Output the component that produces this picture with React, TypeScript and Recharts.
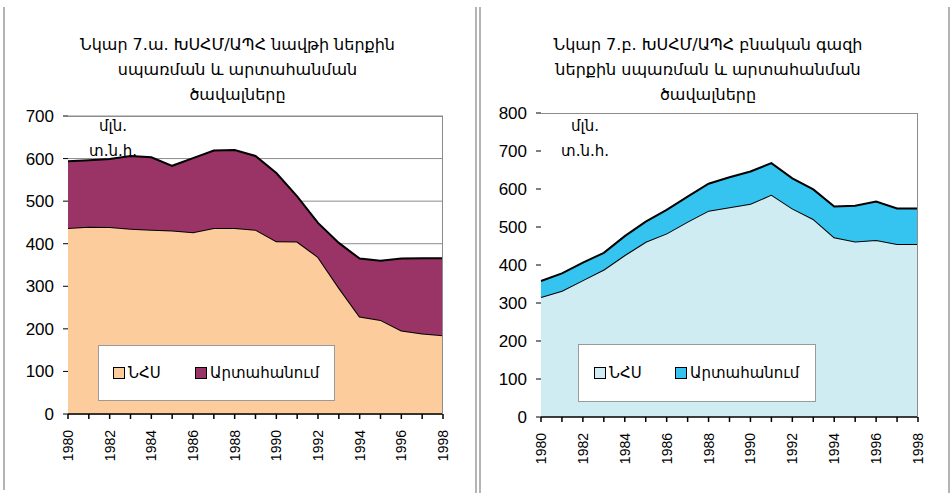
import { AreaChart, Area, XAxis, YAxis, CartesianGrid } from 'recharts';

const YEARS = [
  1980, 1981, 1982, 1983, 1984, 1985, 1986, 1987, 1988, 1989,
  1990, 1991, 1992, 1993, 1994, 1995, 1996, 1997, 1998,
];

// oil: domestic consumption and exports, mln t.o.e.
const OIL_DOMESTIC = [437, 440, 439, 435, 433, 431, 427, 437, 437, 433, 406, 405, 369, 297, 229, 221, 196, 189, 185];
const OIL_EXPORT = [157, 156, 160, 171, 170, 152, 174, 182, 183, 173, 160, 106, 80, 105, 136, 139, 169, 177, 181];

// natural gas: domestic consumption and exports, mln t.o.e.
const GAS_DOMESTIC = [316, 332, 360, 388, 426, 461, 483, 514, 543, 552, 561, 585, 549, 521, 473, 462, 466, 455, 455];
const GAS_EXPORT = [42, 46, 46, 44, 50, 53, 62, 66, 71, 79, 85, 83, 79, 78, 81, 94, 101, 94, 94];

const OIL_TICKS = [0, 100, 200, 300, 400, 500, 600, 700];
const GAS_TICKS = [0, 100, 200, 300, 400, 500, 600, 700, 800];

const SERIES_NAMES = ['ՆՀՍ', 'Արտահանում'];
const UNIT_LINES = ['մլն.', 'տ.ն.հ.'];

const OIL_TITLE = ['Նկար 7.ա. ԽՍՀՄ/ԱՊՀ նավթի ներքին', 'սպառման և արտահանման', 'ծավալները'];
const GAS_TITLE = ['Նկար 7.բ. ԽՍՀՄ/ԱՊՀ բնական գազի', 'ներքին սպառման և արտահանման', 'ծավալները'];

const NUM_FONT = '"Liberation Sans", Arial, "DejaVu Sans", sans-serif';
const ARM_FONT = '"DejaVu Sans", sans-serif';

function buildRows(a: number[], b: number[]) {
  return YEARS.map((year, i) => ({ year, domestic: a[i], export: b[i] }));
}

function YearTick(props: any) {
  const { x, y, payload } = props;
  const year = payload.value as number;
  if (year % 2 !== 0) return <g />;
  return (
    <g transform={`translate(${x},${y})`}>
      <text
        transform="rotate(-90)"
        x={-11}
        dy="0.36em"
        textAnchor="end"
        fontSize={14}
        fontFamily={NUM_FONT}
        fill="#000"
      >
        {year}
      </text>
    </g>
  );
}

function LegendBox({ colors, box }: { colors: string[]; box: any }) {
  return (
    <div
      style={{
        position: 'absolute',
        left: box.x,
        top: box.y,
        width: box.w,
        height: box.h,
        background: '#fff',
        border: '1px solid #9a9a9a',
        boxSizing: 'border-box',
        fontFamily: ARM_FONT,
        fontSize: 15,
        color: '#000',
      }}
    >
      {SERIES_NAMES.map((name, i) => (
        <div
          key={name}
          style={{
            position: 'absolute',
            left: box.items[i],
            top: 0,
            height: box.h - 2,
            display: 'flex',
            alignItems: 'center',
            whiteSpace: 'nowrap',
          }}
        >
          <span
            style={{
              display: 'inline-block',
              width: 10,
              height: 10,
              background: colors[i],
              border: '1.5px solid #000',
              marginRight: 3,
            }}
          />
          {name}
        </div>
      ))}
    </div>
  );
}

interface PanelProps {
  left: number;
  width: number;
  titleWidth: number;
  title: string[];
  rows: { year: number; domestic: number; export: number }[];
  ticks: number[];
  colors: string[];
  margin: { top: number; right: number; bottom: number; left: number };
  grid: boolean;
  legend: any;
  unitX: number;
}

function Panel({ left, width, titleWidth, title, rows, ticks, colors, margin, grid, legend, unitX }: PanelProps) {
  return (
    <div style={{ position: 'absolute', left, top: 0, width, height: 493 }}>
      <div
        style={{
          position: 'absolute',
          left: 0,
          top: 32,
          width: titleWidth,
          textAlign: 'center',
          fontFamily: ARM_FONT,
          fontSize: 16,
          lineHeight: '25px',
          color: '#000',
        }}
      >
        {title.map((t) => (
          <div key={t}>{t}</div>
        ))}
      </div>
      <AreaChart width={width} height={493} data={rows} margin={margin}>
        {grid && <CartesianGrid vertical={false} horizontal stroke="#8c8c8c" strokeWidth={1} fill="none" />}
        <XAxis
          dataKey="year"
          type="number"
          domain={[1980, 1998]}
          ticks={YEARS}
          interval={0}
          tick={<YearTick />}
          tickSize={5}
          tickMargin={0}
          height={60}
          stroke="#000"
          strokeWidth={1.5}
        />
        <YAxis
          type="number"
          domain={[ticks[0], ticks[ticks.length - 1]]}
          ticks={ticks}
          interval={0}
          width={60}
          tickSize={5}
          tickMargin={9}
          stroke="#000"
          axisLine={false}
          tick={{ fontSize: 17, fill: '#000', fontFamily: NUM_FONT }}
        />
        <Area
          dataKey="domestic"
          name={SERIES_NAMES[0]}
          stackId="s"
          type="linear"
          fill={colors[0]}
          fillOpacity={1}
          stroke="#000"
          strokeWidth={2}
          isAnimationActive={false}
        />
        <Area
          dataKey="export"
          name={SERIES_NAMES[1]}
          stackId="s"
          type="linear"
          fill={colors[1]}
          fillOpacity={1}
          stroke="#000"
          strokeWidth={2}
          isAnimationActive={false}
        />
      </AreaChart>
      {/* plot frame */}
      <div
        style={{
          position: 'absolute',
          left: margin.left + 60,
          top: margin.top,
          width: width - margin.left - 60 - margin.right,
          height: 493 - margin.top - margin.bottom - 60,
          borderTop: '1px solid #8c8c8c',
          borderRight: '1px solid #8c8c8c',
          boxSizing: 'border-box',
          pointerEvents: 'none',
        }}
      />
      <LegendBox colors={colors} box={legend} />
      <div
        style={{
          position: 'absolute',
          left: unitX - 40,
          top: 114,
          width: 80,
          textAlign: 'center',
          fontFamily: ARM_FONT,
          fontSize: 15,
          lineHeight: '25px',
          color: '#000',
        }}
      >
        {UNIT_LINES.map((t) => (
          <div key={t}>{t}</div>
        ))}
      </div>
    </div>
  );
}

export default function App() {
  const oilRows = buildRows(OIL_DOMESTIC, OIL_EXPORT);
  const gasRows = buildRows(GAS_DOMESTIC, GAS_EXPORT);
  return (
    <div style={{ position: 'absolute', left: 0, top: 0, width: 951, height: 493, background: '#fff', overflow: 'hidden' }}>
      <Panel
        left={0}
        width={475}
        titleWidth={475}
        title={OIL_TITLE}
        rows={oilRows}
        ticks={OIL_TICKS}
        colors={['#FCCC9C', '#9A3366']}
        margin={{ top: 116, right: 32, bottom: 19, left: 8 }}
        grid
        legend={{ x: 98, y: 345, w: 237, h: 56, items: [14, 96] }}
        unitX={113}
      />
      <Panel
        left={475}
        width={476}
        titleWidth={466}
        title={GAS_TITLE}
        rows={gasRows}
        ticks={GAS_TICKS}
        colors={['#D0ECF3', '#35C4EF']}
        margin={{ top: 113, right: 33, bottom: 16, left: 6 }}
        grid={false}
        legend={{ x: 103, y: 344, w: 238, h: 58, items: [15, 96] }}
        unitX={110}
      />
      {/* frame lines */}
      <div style={{ position: 'absolute', left: 3, top: 7, width: 2, height: 483, background: '#b4b4b4' }} />
      <div style={{ position: 'absolute', left: 475, top: 7, width: 2, height: 486, background: '#b4b4b4' }} />
      <div style={{ position: 'absolute', left: 479, top: 7, width: 2, height: 486, background: '#b4b4b4' }} />
      <div style={{ position: 'absolute', left: 948, top: 7, width: 2, height: 486, background: '#b4b4b4' }} />
    </div>
  );
}
